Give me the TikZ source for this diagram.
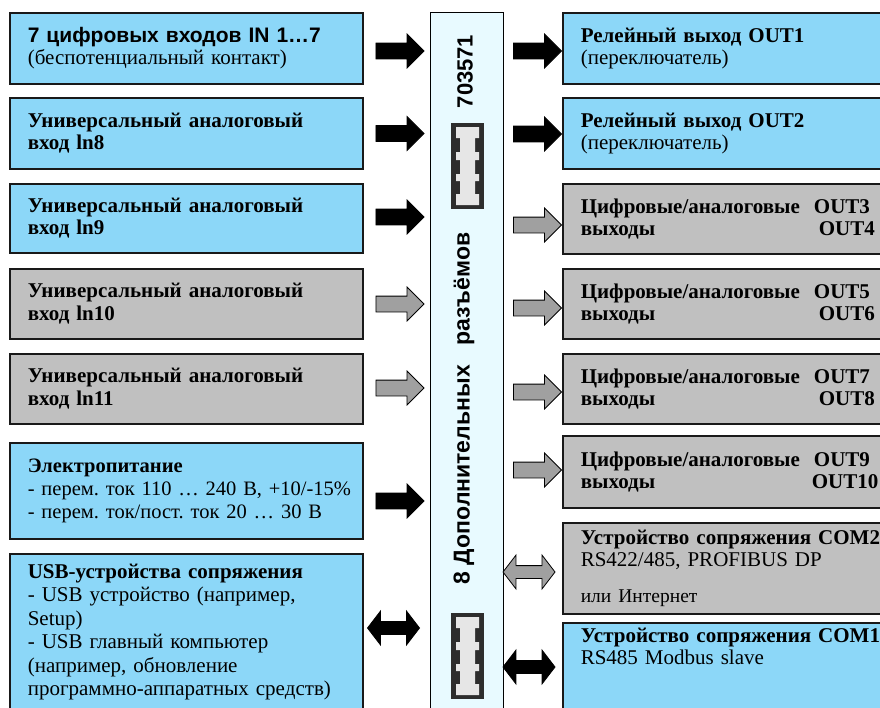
\documentclass[tikz,border=0pt]{standalone}
\usepackage{fontspec}
\setmainfont{Liberation Serif}
\setsansfont{Liberation Sans}
\usetikzlibrary{shapes.arrows}

\definecolor{boxblue}{RGB}{140,215,248}
\definecolor{boxgrey}{RGB}{192,192,192}
\definecolor{barfill}{RGB}{232,250,255}
\definecolor{arrgrey}{RGB}{160,160,160}
\definecolor{plugdark}{RGB}{45,45,45}
\definecolor{pluglight}{RGB}{230,230,230}

% plug symbol, top left corner at (#1,#2)
\newcommand\plug[2]{%
  \fill[plugdark] (#1,#2) rectangle ++(33,86);
  \fill[pluglight] (#1,#2) ++(5,4) -- ++(23,0) -- ++(0,11) -- ++(-4,0) -- ++(0,14) -- ++(4,0) -- ++(0,8) -- ++(-4,0) -- ++(0,14) -- ++(4,0) -- ++(0,7) -- ++(-4,0) -- ++(0,13) -- ++(4,0) -- ++(0,11) -- ++(-23,0) -- ++(0,-11) -- ++(4,0) -- ++(0,-13) -- ++(-4,0) -- ++(0,-7) -- ++(4,0) -- ++(0,-14) -- ++(-4,0) -- ++(0,-8) -- ++(4,0) -- ++(0,-14) -- ++(-4,0) -- cycle;}

\begin{document}
\frenchspacing
\begin{tikzpicture}[x=1pt,y=-1pt,
  box/.style={draw=black!90,line width=1.6pt,anchor=north west,align=left,inner xsep=18pt,inner ysep=0pt,font=\fontsize{21pt}{22.5pt}\selectfont},
  inbox/.style={box,minimum width=353pt,text width=317pt},
  outbox/.style={box,minimum width=360pt,text width=324pt},
  bluebox/.style={fill=boxblue},
  greybox/.style={fill=boxgrey},
  arr/.style={single arrow,minimum height=48pt,single arrow head extend=9pt,inner xsep=0pt,inner ysep=7.5pt,line width=0.8pt},
  arrblk/.style={arr,draw=black,fill=black},
  arrgry/.style={arr,draw=black,fill=arrgrey},
  dbl/.style={double arrow,minimum height=52pt,double arrow head extend=10.5pt,double arrow tip angle=105,inner xsep=0pt,inner ysep=6pt,line width=0.8pt},
  dblblk/.style={dbl,draw=black,fill=black},
  dblgry/.style={dbl,draw=black,fill=arrgrey},
  bartext/.style={rotate=90,inner sep=0pt,font=\sffamily\bfseries\fontsize{22pt}{22pt}\selectfont}]
\useasboundingbox (0,0) rectangle (880,707);
\clip (0,0) rectangle (880,707);

% middle bar with the plugs
\node[draw=black,line width=1.2pt,fill=barfill,anchor=north west,minimum width=73pt,minimum height=720pt,inner sep=0pt] (bar) at (430,12) {};
\plug{451}{123}
\plug{451}{613}
\node[bartext] (barnum) at (465,71.5) {703571};
\node[bartext,font=\sffamily\bfseries\fontsize{23pt}{23pt}\selectfont] (barlabel) at (464,408.5) {8 Дополнительных\hspace{20pt}разъёмов};

% inputs
\node[inbox,bluebox,minimum height=71pt] (in1) at (9,12) {{\sffamily\bfseries 7 цифровых входов IN 1…7}\\(беспотенциальный контакт)};
\node[inbox,bluebox,minimum height=71pt] (in2) at (9,97) {\textbf{Универсальный аналоговый}\\\textbf{вход ln8}};
\node[inbox,bluebox,minimum height=69pt] (in3) at (9,183) {\textbf{Универсальный аналоговый}\\\textbf{вход ln9}};
\node[inbox,greybox,minimum height=70pt] (in4) at (9,268) {\textbf{Универсальный аналоговый}\\\textbf{вход ln10}};
\node[inbox,greybox,minimum height=70pt] (in5) at (9,353) {\textbf{Универсальный аналоговый}\\\textbf{вход ln11}};
\node[inbox,bluebox,minimum height=96pt,font=\fontsize{20.5pt}{23pt}\selectfont] (in6) at (9,442) {\textbf{Электропитание}\\\mbox{- перем. ток 110 … 240 В, +10/-15\%}\\- перем. ток/пост. ток 20 … 30 В};
\node[inbox,bluebox,inner ysep=10pt,text depth=160pt,font=\fontsize{21pt}{23.5pt}\selectfont] (in7) at (9,553) {\textbf{USB-устройства сопряжения}\\- USB устройство (например,\\Setup)\\- USB главный компьютер\\(например, обновление\\программно-аппаратных средств)};

% outputs
\node[outbox,bluebox,minimum height=71pt] (out1) at (562,12) {\textbf{Релейный выход OUT1}\\(переключатель)};
\node[outbox,bluebox,minimum height=71pt] (out2) at (562,97) {\textbf{Релейный выход OUT2}\\(переключатель)};
\node[outbox,greybox,minimum height=70pt] (out3) at (562,183) {\textbf{Цифровые/аналоговые\ \ OUT3}\\\textbf{\makebox[238pt][l]{выходы}OUT4}};
\node[outbox,greybox,minimum height=70pt] (out4) at (562,268) {\textbf{Цифровые/аналоговые\ \ OUT5}\\\textbf{\makebox[238pt][l]{выходы}OUT6}};
\node[outbox,greybox,minimum height=70pt] (out5) at (562,353) {\textbf{Цифровые/аналоговые\ \ OUT7}\\\textbf{\makebox[238pt][l]{выходы}OUT8}};
\node[outbox,greybox,minimum height=72pt] (out6) at (562,435) {\textbf{Цифровые/аналоговые\ \ OUT9}\\\textbf{\makebox[231pt][l]{выходы}OUT10}};
\node[outbox,greybox,minimum height=91pt] (out7) at (562,522) {\textbf{Устройство сопряжения COM2}\\RS422/485, PROFIBUS DP\\[13pt]{\fontsize{19.5pt}{22pt}\selectfont или Интернет}};
\node[outbox,bluebox,inner ysep=5pt,text depth=110pt] (out8) at (562,622) {\textbf{Устройство сопряжения COM1}\\RS485 Modbus slave};

% arrows into the bar
\node[arrblk] (ain1) at (396,51) {};
\node[arrblk] (ain2) at (396,133.5) {};
\node[arrblk] (ain3) at (396,217) {};
\node[arrgry] (ain4) at (396,304) {};
\node[arrgry] (ain5) at (396,388) {};
\node[arrblk] (ain6) at (396,501) {};
\node[dblblk] (ain7) at (393.5,628) {};

% arrows out of the bar
\node[arrblk] (aout1) at (533.5,51) {};
\node[arrblk] (aout2) at (533.5,134) {};
\node[arrgry] (aout3) at (533.5,225) {};
\node[arrgry] (aout4) at (533.5,308) {};
\node[arrgry] (aout5) at (533.5,392) {};
\node[arrgry] (aout6) at (533.5,470) {};
\node[dblgry] (aout7) at (529,572) {};
\node[dblblk] (aout8) at (529,667) {};
\end{tikzpicture}
\end{document}
